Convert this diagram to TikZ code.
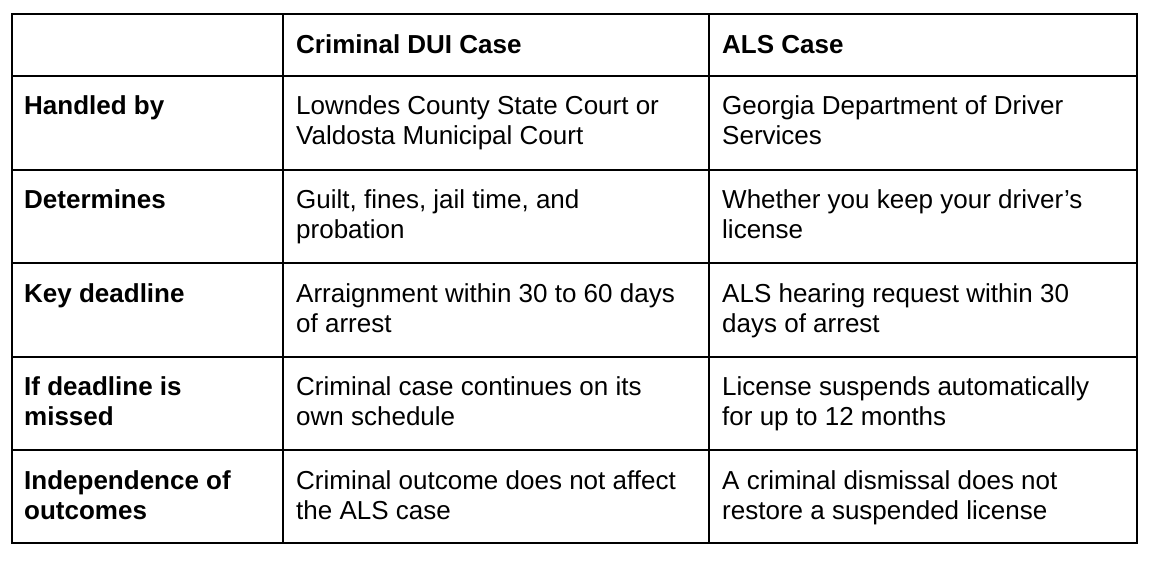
\documentclass[tikz,border=0pt]{standalone}
\usepackage{fontspec}
\setmainfont{Liberation Sans}
\begin{document}
\begin{tikzpicture}[x=1pt,y=-1pt,
  grid/.style={line width=1.4pt,black},
  cell/.style={anchor=base west,inner sep=0pt,font=\fontsize{26}{30}\selectfont},
  head/.style={cell,font=\fontsize{26}{30}\selectfont\bfseries}]
\useasboundingbox (0,0) rectangle (1149,560);
\draw[grid] (12,14) rectangle (1137,543);
\foreach \y in {76,170,263,357,450} \draw[grid] (12,\y) -- (1137,\y);
\foreach \x in {283,709} \draw[grid] (\x,14) -- (\x,543);
\node[head] (h1) at (296,53) {Criminal DUI Case};
\node[head] (h2) at (722,53) {ALS Case};
\node[head] (r1) at (24,114) {Handled by};
\node[cell] (a1) at (296,114) {Lowndes County State Court or};
\node[cell] (a1b) at (296,144) {Valdosta Municipal Court};
\node[cell] (b1) at (722,114) {Georgia Department of Driver};
\node[cell] (b1b) at (722,144) {Services};
\node[head] (r2) at (24,208) {Determines};
\node[cell] (a2) at (296,208) {Guilt, fines, jail time, and};
\node[cell] (a2b) at (296,238) {probation};
\node[cell] (b2) at (722,208) {Whether you keep your driver{\char"27}s};
\node[cell] (b2b) at (722,238) {license};
\node[head] (r3) at (24,302) {Key deadline};
\node[cell] (a3) at (296,302) {Arraignment within 30 to 60 days};
\node[cell] (a3b) at (296,332) {of arrest};
\node[cell] (b3) at (722,302) {ALS hearing request within 30};
\node[cell] (b3b) at (722,332) {days of arrest};
\node[head] (r4) at (24,395) {If deadline is};
\node[head] (r4b) at (24,425) {missed};
\node[cell] (a4) at (296,395) {Criminal case continues on its};
\node[cell] (a4b) at (296,425) {own schedule};
\node[cell] (b4) at (722,395) {License suspends automatically};
\node[cell] (b4b) at (722,425) {for up to 12 months};
\node[head] (r5) at (24,489) {Independence of};
\node[head] (r5b) at (24,519) {outcomes};
\node[cell] (a5) at (296,489) {Criminal outcome does not affect};
\node[cell] (a5b) at (296,519) {the ALS case};
\node[cell] (b5) at (722,489) {A criminal dismissal does not};
\node[cell] (b5b) at (722,519) {restore a suspended license};
\end{tikzpicture}
\end{document}
